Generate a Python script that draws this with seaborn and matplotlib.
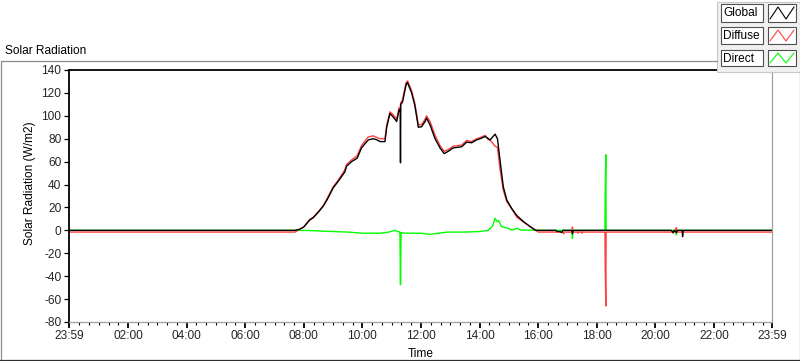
import matplotlib
matplotlib.use("Agg")
import matplotlib.pyplot as plt
from matplotlib.lines import Line2D
from matplotlib.patches import Rectangle
from matplotlib.ticker import FixedLocator, MultipleLocator
import seaborn as sns
import pandas as pd

# ---------------- data (hours of day, W/m2) ----------------
global_t = [0, 7.7, 7.86, 8.0, 8.2, 8.32, 8.5, 8.66, 8.8, 9.0, 9.15, 9.29, 9.4, 9.46, 9.63,
            9.82, 9.97, 10.1, 10.2, 10.37, 10.5, 10.6, 10.77, 10.83, 10.94, 11.05, 11.17,
            11.25, 11.29, 11.30, 11.31, 11.37, 11.49, 11.54, 11.68, 11.79, 11.91, 12.02,
            12.14, 12.19, 12.31, 12.48, 12.65, 12.79, 12.93, 13.1, 13.39, 13.56, 13.73,
            13.9, 14.02, 14.19, 14.36, 14.53, 14.61, 14.70, 14.81, 14.93, 15.1, 15.27,
            15.5, 15.73, 15.9, 16.0, 16.6, 16.65, 16.75, 16.8, 16.85, 17.15, 17.17, 17.2,
            20.55, 20.6, 20.65, 20.72, 20.75, 20.92, 20.93, 20.95, 24.0]
global_v = [0, 0, 1, 3, 9, 11, 16, 21, 27, 37, 42, 47, 51, 56, 60,
            63, 72, 76, 79, 80, 79, 77.5, 77.5, 90, 102, 99, 95,
            105, 106, 59, 110, 112, 127, 129, 120, 109, 90, 90.5,
            95, 98, 92, 80, 72, 67, 69, 72, 73, 77, 76.5,
            79, 80, 82, 79, 84, 80, 61, 38, 26.5, 19, 13,
            7.6, 3.2, 0.3, 0, 0, -1, -1, -2, 0, 0, -3, 0,
            0, -2, 0, -2, 0, 0, -5.5, 0, 0]

diffuse_t = [0, 7.7, 7.86, 8.0, 8.2, 8.32, 8.5, 8.66, 8.8, 9.0, 9.15, 9.29, 9.4, 9.46, 9.63,
             9.82, 9.97, 10.1, 10.2, 10.37, 10.5, 10.6, 10.77, 10.83, 10.94, 11.05, 11.17,
             11.25, 11.29, 11.31, 11.37, 11.49, 11.54, 11.68, 11.79, 11.91, 12.02,
             12.14, 12.19, 12.31, 12.48, 12.65, 12.79, 12.93, 13.1, 13.39, 13.56, 13.73,
             13.9, 14.02, 14.19, 14.3, 14.36, 14.45, 14.53, 14.61, 14.70, 14.81, 14.93,
             15.1, 15.27, 15.5, 15.73, 15.9, 16.0, 16.85, 16.87, 16.89, 17.15, 17.17, 17.19,
             17.35, 17.36, 17.37, 17.49, 17.5, 17.51, 18.28, 18.29, 18.31, 18.32,
             20.6, 20.62, 20.64, 20.72, 20.74, 24.0]
diffuse_v = [-1.5, -1.5, 1, 3, 9.5, 11.5, 16.5, 21.5, 28, 38, 43, 48.5, 53, 57.5, 61.5,
             65, 74, 78.5, 81.5, 82.5, 81, 80, 80, 92, 103.5, 101, 97,
             107, 107.5, 111.5, 114, 129, 130.5, 122, 111, 92, 92.5,
             97, 100, 95, 83, 74, 69, 70.5, 73.5, 74.5, 78.5, 77.5,
             80, 81, 83, 79, 79, 76, 73.5, 72.5, 53, 35, 25,
             18.7, 11.5, 7.3, 3.2, 0.3, -1.5, -1.5, -3, -1.5, -1.5, 3, -1.5,
             -1.5, -2.5, -1.5, -1.5, -2.5, -1.5, -1.5, -33, -66, -1.5,
             -1.5, -2.5, -1.5, 2.5, -1.5, -1.5]

direct_t = [0, 7.8, 8.0, 8.5, 9.0, 9.5, 10.0, 10.6, 10.9, 11.1, 11.2, 11.28, 11.30, 11.32,
            11.5, 12.0, 12.3, 12.9, 13.5, 14.0, 14.3, 14.45, 14.53, 14.6, 14.65, 14.75,
            14.98, 15.1, 15.3, 15.4, 15.95, 17.15, 17.17, 17.19, 18.28, 18.29, 18.31,
            18.32, 20.7, 20.72, 20.74, 24.0]
direct_v = [0, 0, 0, -0.5, -1, -1.5, -2.5, -2.5, -1.5, 0, -1, -1.5, -47.5, -2,
            -2.5, -2.5, -3.5, -1.5, -1.5, -1, 0, 4, 10.5, 7.6, 8.5, 3.3,
            1.8, 0.3, 1.8, 0.3, 0, 0, -7, 0, 0, 32, 66,
            0, 0, -4, 0, 0]

series_names = ["Global", "Diffuse", "Direct"]
series_colors = ["#000000", "#ff4040", "#00ff00"]
x_tick_hours = [-1 / 60, 2, 4, 6, 8, 10, 12, 14, 16, 18, 20, 22, 24 - 1 / 60]
x_tick_labels = ["23:59", "02:00", "04:00", "06:00", "08:00", "10:00", "12:00",
                 "14:00", "16:00", "18:00", "20:00", "22:00", "23:59"]
y_ticks = [-80, -60, -40, -20, 0, 20, 40, 60, 80, 100, 120, 140]

# ---------------- figure ----------------
sns.set_theme(style="white")
plt.rcParams["font.family"] = ["Liberation Sans", "DejaVu Sans"]
FS = 8.6

W, H = 800, 361
fig = plt.figure(figsize=(W / 100, H / 100), dpi=100)
fig.patch.set_facecolor("white")


def fx(x):
    return x / W


def fy(y):
    return 1 - y / H


ax = fig.add_axes([fx(69), fy(322), (772 - 69) / W, (322 - 70) / H])
ax.set_facecolor("white")

frames = {
    "Direct": pd.DataFrame({"t": direct_t, "v": direct_v}),
    "Diffuse": pd.DataFrame({"t": diffuse_t, "v": diffuse_v}),
    "Global": pd.DataFrame({"t": global_t, "v": global_v}),
}
col = dict(zip(series_names, series_colors))
for name in ["Direct", "Diffuse", "Global"]:
    sns.lineplot(data=frames[name], x="t", y="v", ax=ax, color=col[name],
                 estimator=None, sort=False, lw=1.0, legend=False)

ax.set_xlim(-1 / 60, 24 - 1 / 60)
ax.set_ylim(-80, 140)

ax.xaxis.set_major_locator(FixedLocator(x_tick_hours))
ax.set_xticklabels(x_tick_labels)
ax.xaxis.set_minor_locator(MultipleLocator(1 / 3))
ax.set_yticks(y_ticks)
ax.set_yticklabels([str(v) for v in y_ticks])

ax.tick_params(axis="x", which="major", direction="out", length=4, width=1.3,
               color="black", labelsize=FS, pad=2, bottom=True)
ax.tick_params(axis="x", which="minor", direction="out", length=2.3, width=0.8,
               color="black", bottom=True)
ax.tick_params(axis="y", which="major", direction="out", length=3.5, width=0.9,
               color="black", labelsize=FS, pad=2, left=True)

for s in ["top", "left"]:
    ax.spines[s].set_color("black")
    ax.spines[s].set_linewidth(1.3)
for s in ["right", "bottom"]:
    ax.spines[s].set_color("#a0a0a0")
    ax.spines[s].set_linewidth(0.9)

ax.set_xlabel("Time", fontsize=FS, color="black")
ax.xaxis.set_label_coords(0.5, -(354 - 322) / 252)
ax.xaxis.label.set_va("center")
ax.set_ylabel("Solar Radiation (W/m2)", fontsize=FS, color="black")
ax.yaxis.set_label_coords((30 - 69) / 703, (322 - 183) / 252)
ax.yaxis.label.set_va("center")
ax.yaxis.label.set_ha("center")

# ---------------- panel frame & title ----------------
gray = "#8c8c8c"
fig.add_artist(Line2D([fx(0.5), fx(717)], [fy(61), fy(61)], color=gray, lw=0.9))
fig.add_artist(Line2D([fx(0.5), fx(0.5)], [fy(61), fy(360)], color=gray, lw=0.9))
fig.add_artist(Line2D([fx(799.5), fx(799.5)], [fy(72), fy(360)], color=gray, lw=0.9))
fig.add_artist(Line2D([fx(0), fx(800)], [fy(360), fy(360)], color="#303030", lw=0.9))
fig.text(fx(5), fy(50.5), "Solar Radiation", fontsize=FS, va="center", ha="left",
         color="black")

# ---------------- legend (LabVIEW style plot legend) ----------------
fig.add_artist(Rectangle((fx(717), fy(72)), (799.5 - 717) / W, (72 - 2) / H,
                         transform=fig.transFigure, fc="#f0f0f0", ec="#c8c8c8", lw=0.8))
rows = [(4, 22), (27, 44), (50, 66)]
for (y0, y1), name, c in zip(rows, series_names, series_colors):
    fig.add_artist(Rectangle((fx(721), fy(y1)), (763 - 721) / W, (y1 - y0) / H,
                             transform=fig.transFigure, fc="white", ec="#505050", lw=0.8))
    fig.text(fx(723.5), fy((y0 + y1) / 2 + 0.5), name, fontsize=FS, va="center",
             ha="left", color="black")
    fig.add_artist(Rectangle((fx(768), fy(y1)), (796 - 768) / W, (y1 - y0) / H,
                             transform=fig.transFigure, fc="white", ec="#505050", lw=0.8))
    xs = [770, 778, 786, 794]
    ys = [y1 - 3, y0 + 3, y1 - 3, y0 + 3]
    fig.add_artist(Line2D([fx(v) for v in xs], [fy(v) for v in ys], color=c, lw=0.8))

fig.savefig("out.png", dpi=100, facecolor="white")
